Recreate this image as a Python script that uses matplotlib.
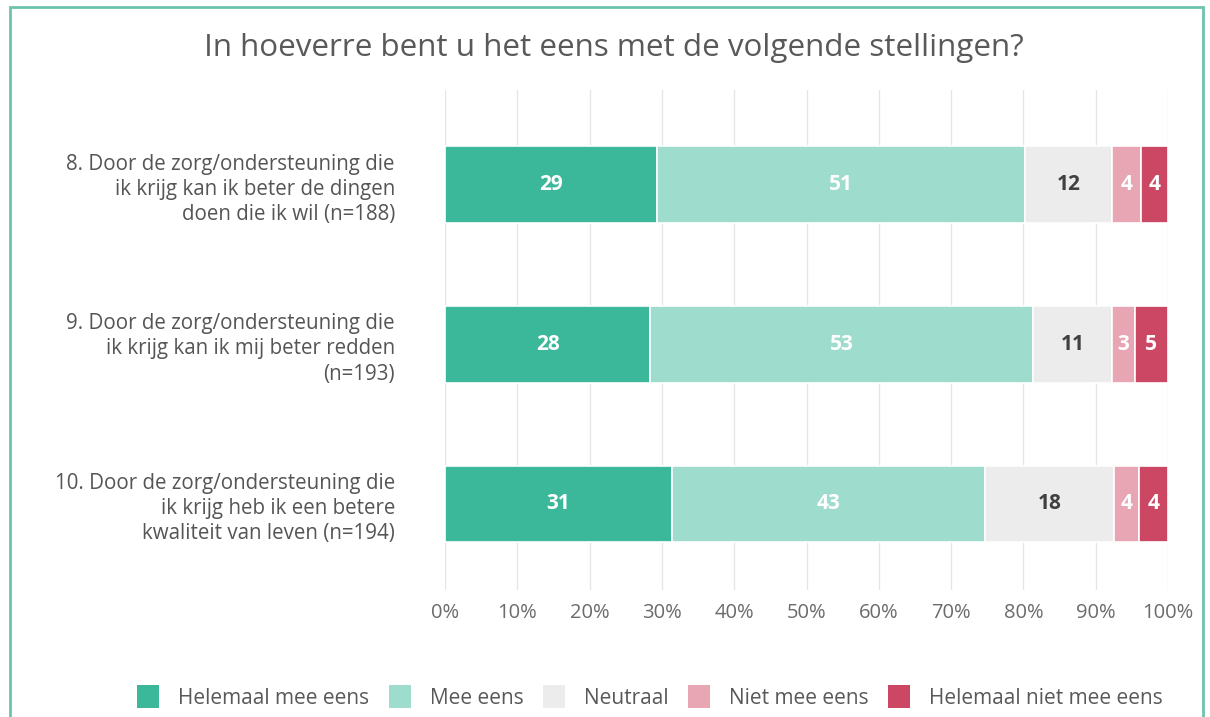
import matplotlib
matplotlib.use("Agg")
import matplotlib.pyplot as plt
from matplotlib.patches import Rectangle, Patch
import numpy as np

plt.rcParams['font.family'] = ['Open Sans', 'DejaVu Sans']

title = "In hoeverre bent u het eens met de volgende stellingen?"
statements = [
    "8. Door de zorg/ondersteuning die\nik krijg kan ik beter de dingen\ndoen die ik wil (n=188)",
    "9. Door de zorg/ondersteuning die\nik krijg kan ik mij beter redden\n(n=193)",
    "10. Door de zorg/ondersteuning die\nik krijg heb ik een betere\nkwaliteit van leven (n=194)",
]
categories = ["Helemaal mee eens", "Mee eens", "Neutraal", "Niet mee eens", "Helemaal niet mee eens"]
helemaal_mee_eens = [29.3, 28.4, 31.4]
mee_eens = [50.9, 52.9, 43.3]
neutraal = [12.1, 11.0, 17.8]
niet_mee_eens = [4.0, 3.1, 3.5]
helemaal_niet_mee_eens = [3.7, 4.6, 4.0]
labels = [
    [29, 28, 31],
    [51, 53, 43],
    [12, 11, 18],
    [4, 3, 4],
    [4, 5, 4],
]
xticks = [0, 10, 20, 30, 40, 50, 60, 70, 80, 90, 100]

series = [helemaal_mee_eens, mee_eens, neutraal, niet_mee_eens, helemaal_niet_mee_eens]
colors = ["#3bb79a", "#9edccd", "#ececec", "#e8a5b3", "#cb4764"]
label_colors = ["white", "white", "#404040", "white", "white"]

fig = plt.figure(figsize=(12.1, 7.17), dpi=100)
ax = fig.add_axes([445/1210, 127/717, (1168-445)/1210, (590-90)/717])

y = np.arange(len(statements))
left = np.zeros(len(statements))
for s, vals in enumerate(series):
    vals = np.array(vals)
    ax.barh(y, vals, left=left, height=0.48, color=colors[s], edgecolor="white", linewidth=1.2, zorder=3)
    for i in range(len(statements)):
        ax.text(left[i] + vals[i] / 2, y[i], str(labels[s][i]), ha="center", va="center",
                color=label_colors[s], fontsize=15, fontweight="bold", zorder=4)
    left += vals

ax.set_xlim(0, 100)
ax.set_ylim(2 + 0.54, -0.594)
ax.set_xticks(xticks)
ax.set_xticklabels([f"{t}%" for t in xticks], fontsize=14.5, color="#6b6b6b")
ax.set_yticks(y)
ax.set_yticklabels(statements, fontsize=14.8, color="#555555", linespacing=1.26)
ax.tick_params(axis="x", length=0, pad=9)
ax.tick_params(axis="y", length=0, pad=36)
for sp in ax.spines.values():
    sp.set_visible(False)
ax.grid(axis="x", color="#e6e6e6", linewidth=1, zorder=0)
ax.set_axisbelow(True)

fig.text(614/1210, 1 - 48/717, title, ha="center", va="center", fontsize=22.6, color="#595959")

handles = [Patch(facecolor=c, edgecolor="none") for c in colors]
fig.legend(handles, categories, loc="center", bbox_to_anchor=(650/1210, 1 - 697/717), ncol=5,
           frameon=False, fontsize=15, labelcolor="#595959", handlelength=1.05, handleheight=1.3,
           columnspacing=0.95, handletextpad=0.9)

# teal border
fig.add_artist(Rectangle((10/1210, -0.05), (1203-10)/1210, 1.05 - 7/717, transform=fig.transFigure,
                         fill=False, edgecolor="#6cc3ae", linewidth=2))

fig.savefig("out.png", dpi=100, facecolor="white")
